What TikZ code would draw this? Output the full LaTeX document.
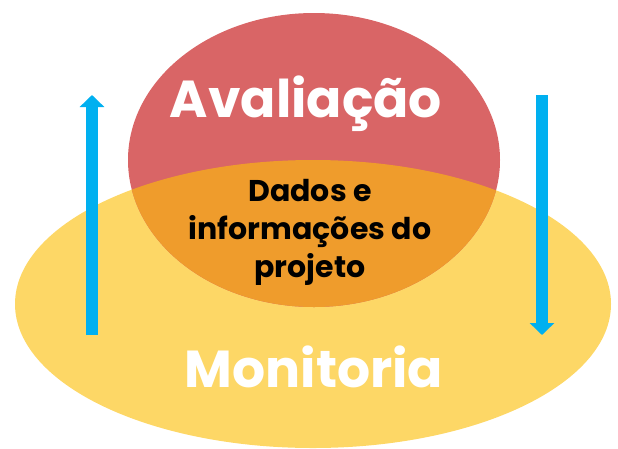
\documentclass[tikz,border=0pt]{standalone}
\usepackage{fontspec}
\setmainfont{Poppins}
\usepackage{tikz}
\usetikzlibrary{arrows.meta}
\definecolor{evalred}{HTML}{D96566}
\definecolor{monyellow}{HTML}{FDD766}
\definecolor{dataorange}{HTML}{EF9C2C}
\definecolor{flowblue}{HTML}{00B0F0}
\tikzset{
every picture/.style={x=1pt, y=-1pt},
%%%%%%%%%%  Fill styles
evalfill/.style={fill=evalred},
monfill/.style={fill=monyellow},
datafill/.style={fill=dataorange},
%%%%%%%%%%  Text styles
bigtitle/.style={text=white, font=\bfseries\fontsize{52}{60}\selectfont, inner sep=0pt},
datatext/.style={text=black, font=\bfseries\fontsize{30}{38}\selectfont,
                 align=center, inner sep=0pt},
%%%%%%%%%%  Arrow style
flow/.style={draw=flowblue, line width=12pt,
             -{Triangle[width=24pt,length=12pt]}}
}
\begin{document}
\begin{tikzpicture}
\useasboundingbox (0,0) rectangle (618,448);
%% the two ellipses
\fill[monfill] (313,304) ellipse [x radius=298, y radius=144];
\fill[evalfill] (314,160) ellipse [x radius=186, y radius=147];
%% overlap
\begin{scope}
\clip (314,160) ellipse [x radius=186, y radius=147];
\fill[datafill] (313,304) ellipse [x radius=298, y radius=144];
\end{scope}
%% labels
\node[bigtitle, anchor=base] (aval) at (306,117) {Avaliação};
\node[bigtitle, anchor=base] (moni) at (314,387) {Monitoria};
\node[datatext] (dados) at (310,232) {Dados e\\informações do\\projeto};
%% arrows
\coordinate (upfrom) at (92,335);
\coordinate (upto) at (92,95);
\coordinate (downfrom) at (542,95);
\coordinate (downto) at (542,335);
\draw[flow] (upfrom) -- (upto);
\draw[flow] (downfrom) -- (downto);
\end{tikzpicture}
\end{document}
